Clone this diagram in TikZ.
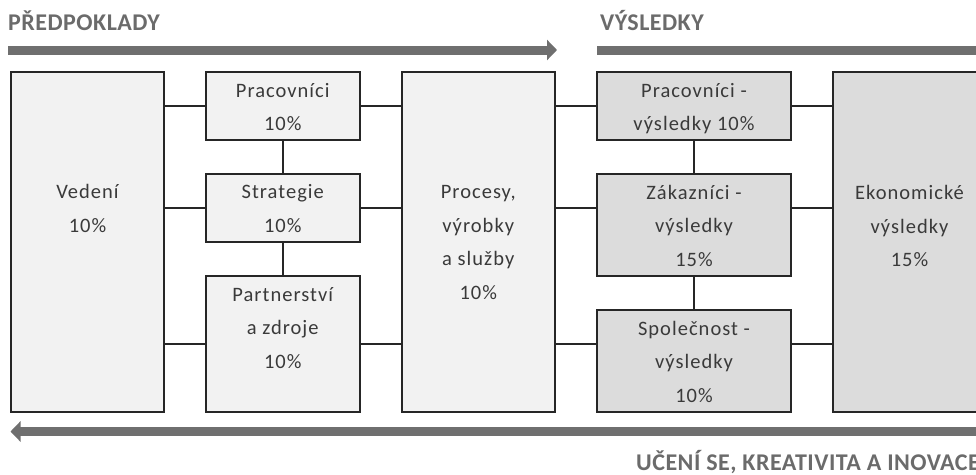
\documentclass[tikz,border=0pt]{standalone}
\usepackage{fontspec}
\setmainfont{Carlito}
\newfontfamily\boxfont[LetterSpace=5]{Carlito}
\newfontfamily\headfont[LetterSpace=2]{Carlito}
\usepackage{tikz}
\usetikzlibrary{arrows.meta,calc}

\definecolor{boxlight}{HTML}{F2F2F2}
\definecolor{boxdark}{HTML}{DCDCDC}
\definecolor{linedark}{HTML}{262626}
\definecolor{bargray}{HTML}{6F6F6F}
\definecolor{headgray}{HTML}{6B6B6B}
\definecolor{textgray}{HTML}{3A3A3A}

\tikzset{
	lightbox/.style={shape=rectangle,draw=linedark,line width=2pt,fill=boxlight,inner sep=0pt,outer sep=0pt},
	darkbox/.style={lightbox,fill=boxdark},
	boxtext/.style={anchor=base,align=center,inner sep=0pt,text=textgray,font=\boxfont\fontsize{20.5}{33.5}\selectfont},
	headtext/.style={anchor=base west,inner sep=0pt,text=headgray,font=\headfont\bfseries\fontsize{24}{28}\selectfont},
	link/.style={draw=linedark,line width=2pt},
	bar/.style={draw=bargray,line width=9pt},
	bartip/.style={-{Triangle[length=10pt,width=20pt]}}
}

\begin{document}
\begin{tikzpicture}[x=1pt,y=-1pt]
	
	\clip (0,0) rectangle (976,474);
	
	% predpoklady
	\node[lightbox,minimum width=153pt,minimum height=340pt] (vedeni) at (87.5,242) {};
	\node[lightbox,minimum width=153.5pt,minimum height=67.5pt] (pracovnici) at (282.75,105.75) {};
	\node[lightbox,minimum width=153.5pt,minimum height=67.5pt] (strategie) at (282.75,208) {};
	\node[lightbox,minimum width=153.5pt,minimum height=136pt] (partnerstvi) at (282.75,344) {};
	\node[lightbox,minimum width=153.5pt,minimum height=340pt] (procesy) at (478.25,242) {};
	
	% vysledky
	\node[darkbox,minimum width=194pt,minimum height=67.5pt] (pracvys) at (694,105.75) {};
	\node[darkbox,minimum width=194pt,minimum height=102pt] (zakaznici) at (694,225) {};
	\node[darkbox,minimum width=194pt,minimum height=102pt] (spolecnost) at (694,361) {};
	\node[darkbox,minimum width=153pt,minimum height=340pt] (ekonomicke) at (909.5,242) {};
	
	% texty (base = posledni radek)
	\node[boxtext] (vedeni-t) at ($(vedeni.north)+(0,160)$) {Vedení\\10\%};
	\node[boxtext] (pracovnici-t) at ($(pracovnici.north)+(0,58.5)$) {Pracovníci\\10\%};
	\node[boxtext] (strategie-t) at ($(strategie.north)+(0,58)$) {Strategie\\10\%};
	\node[boxtext] (partnerstvi-t) at ($(partnerstvi.north)+(0,92)$) {Partnerství\\a zdroje\\10\%};
	\node[boxtext] (procesy-t) at ($(procesy.north)+(0,227)$) {Procesy,\\výrobky\\a služby\\10\%};
	\node[boxtext] (pracvys-t) at ($(pracvys.north)+(0,58.5)$) {Pracovníci -\\výsledky 10\%};
	\node[boxtext] (zakaznici-t) at ($(zakaznici.north)+(0,92)$) {Zákazníci -\\výsledky\\15\%};
	\node[boxtext] (spolecnost-t) at ($(spolecnost.north)+(0,92)$) {Společnost -\\výsledky\\10\%};
	\node[boxtext] (ekonomicke-t) at ($(ekonomicke.north)+(0,194.5)$) {Ekonomické\\výsledky\\15\%};
	
	\path[link] (pracovnici.west) edge (pracovnici.west -| vedeni.east);
	\path[link] (strategie.west) edge (strategie.west -| vedeni.east);
	\path[link] (partnerstvi.west) edge (partnerstvi.west -| vedeni.east);
	\path[link] (pracovnici.east) edge (pracovnici.east -| procesy.west);
	\path[link] (strategie.east) edge (strategie.east -| procesy.west);
	\path[link] (partnerstvi.east) edge (partnerstvi.east -| procesy.west);
	\path[link] (pracovnici.south) edge (strategie.north);
	\path[link] (strategie.south) edge (partnerstvi.north);
	
	\path[link] (procesy.east |- pracvys) edge (pracvys.west);
	\path[link] (procesy.east |- strategie) edge (strategie -| zakaznici.west);
	\path[link] (procesy.east |- partnerstvi) edge (partnerstvi -| spolecnost.west);
	\path[link] (pracvys.east) edge (pracvys.east -| ekonomicke.west);
	\path[link] (zakaznici.east |- strategie) edge (strategie -| ekonomicke.west);
	\path[link] (spolecnost.east |- partnerstvi) edge (partnerstvi -| ekonomicke.west);
	\path[link] (pracvys.south) edge (zakaznici.north);
	\path[link] (zakaznici.south) edge (spolecnost.north);
	
	% sipky
	\coordinate (pred-a) at (8,50);
	\coordinate (pred-b) at (557,50);
	\coordinate (vys-a) at (597,50);
	\coordinate (vys-b) at (990,50);
	\coordinate (uceni-a) at (990,431.5);
	\coordinate (uceni-b) at (10.5,431.5);
	\draw[bar,bartip] (pred-a) -- (pred-b);
	\draw[bar] (vys-a) -- (vys-b);
	\draw[bar,bartip] (uceni-a) -- (uceni-b);
	
	\node[headtext] (pred-t) at (8,30) {PŘEDPOKLADY};
	\node[headtext] (vys-t) at (600,30) {VÝSLEDKY};
	\node[headtext] (uceni-t) at (636,470) {UČENÍ SE, KREATIVITA A INOVACE};
	
\end{tikzpicture}
\end{document}
